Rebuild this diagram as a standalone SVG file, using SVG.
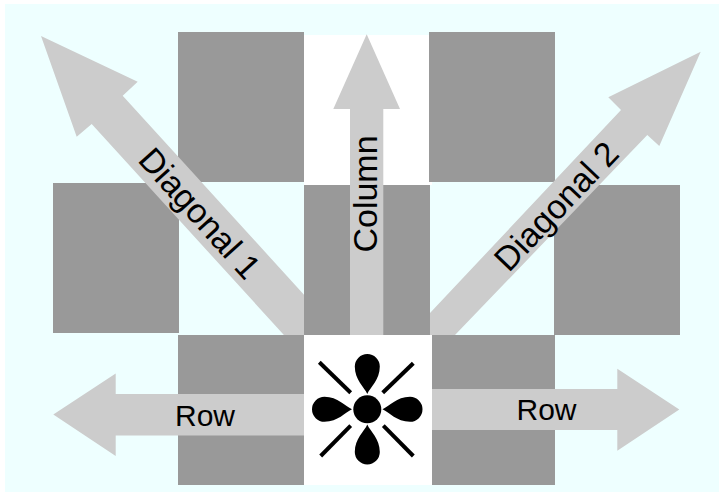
<svg xmlns="http://www.w3.org/2000/svg" width="719" height="492" viewBox="0 0 719 492">
  <style>
    .sq { fill: #999999; }
    .wh { fill: #ffffff; }
    .ar { fill: #cccccc; }
    .lbl { font-family: "Liberation Sans", Arial, Helvetica, sans-serif; fill: #000000; text-anchor: middle; }
    .ray { stroke: #000000; stroke-width: 4; fill: none; }
  </style>
  <defs>
    <path id="petal" d="M0,0 C-3,-7 -12.5,-14 -12.5,-27.5 A12.5,12.5 0 0 1 12.5,-27.5 C12.5,-14 3,-7 0,0 Z" fill="#000000"/>
  </defs>
  <rect x="0" y="0" width="719" height="492" fill="#ffffff"/>
  <rect x="5" y="4" width="714" height="488" fill="#eeffff"/>

  <g id="board">
    <rect class="wh" x="304" y="35" width="128" height="150"/>
    <rect class="sq" x="178" y="32" width="126" height="150"/>
    <rect class="sq" x="429" y="32" width="126" height="150"/>
    <rect class="sq" x="53" y="183" width="126" height="150"/>
    <rect class="sq" x="304" y="185" width="126" height="150"/>
    <rect class="sq" x="554" y="185" width="126" height="150"/>
    <rect class="sq" x="178" y="335" width="126" height="150"/>
    <rect class="sq" x="432" y="335" width="123" height="150"/>
  </g>

  <g id="connectors">
    <polygon id="diagonal1" class="ar" points="41,36 137.7,81.7 122.7,95.7 304,294.7 304,335 283.9,335 91.7,124 76.7,136.7"/>
    <polygon id="diagonal2" class="ar" points="700.7,51.7 608.3,97.3 621,110 430,313 430,335 455,335 647.3,135 659.3,146"/>
    <polygon id="column" class="ar" points="366.7,34.3 400,109 383.3,109 383.3,335 350,335 350,109 333.3,109"/>
    <polygon id="rowLeft" class="ar" points="53.3,414.5 115.7,373.5 115.7,394 304,394 304,435.5 115.7,435.5 115.7,456"/>
    <polygon id="rowRight" class="ar" points="679.3,409.5 617.3,368.7 617.3,389 432,389 432,430 617.3,430 617.3,450.7"/>
  </g>

  <g id="labels">
    <text class="lbl" font-size="34" transform="translate(200,213) rotate(48)" x="0" y="12">Diagonal 1</text>
    <text class="lbl" font-size="34" transform="translate(556,206) rotate(-46.5)" x="0" y="12">Diagonal 2</text>
    <text class="lbl" font-size="34" transform="translate(377,194) rotate(-90)" x="0" y="0">Column</text>
    <text class="lbl" font-size="30" x="205" y="426">Row</text>
    <text class="lbl" font-size="30" x="546.5" y="420">Row</text>
  </g>

  <g id="piece">
    <rect class="wh" x="304" y="335" width="128" height="150"/>
    <circle cx="367.3" cy="409.3" r="14" fill="#000000"/>
    <use href="#petal" transform="translate(367.3,394)"/>
    <use href="#petal" transform="translate(367.3,424.5) rotate(180)"/>
    <use href="#petal" transform="translate(352,409.3) rotate(-90)"/>
    <use href="#petal" transform="translate(382.5,409.3) rotate(90)"/>
    <line class="ray" x1="319.3" y1="362.3" x2="350.7" y2="392.7"/>
    <line class="ray" x1="413.3" y1="363.3" x2="382.7" y2="392.7"/>
    <line class="ray" x1="350.7" y1="425.7" x2="320.7" y2="456"/>
    <line class="ray" x1="383.3" y1="425.7" x2="413.3" y2="456"/>
  </g>
</svg>
